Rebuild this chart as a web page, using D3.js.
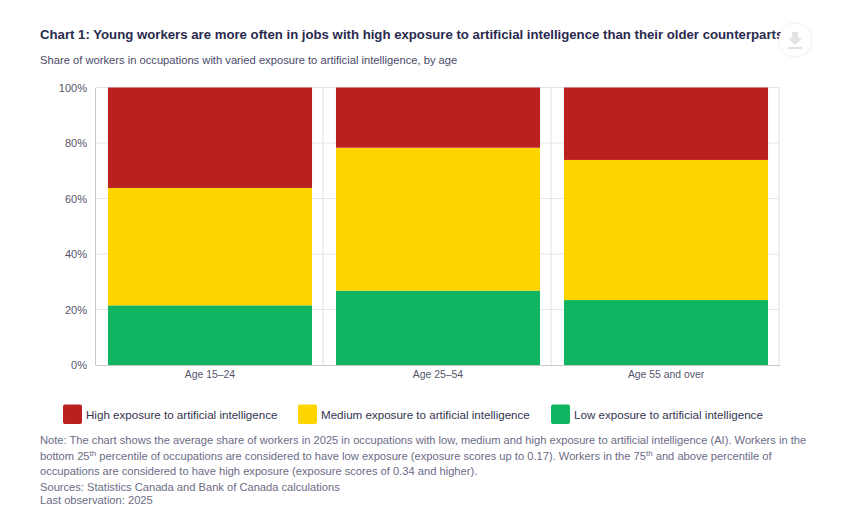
<!DOCTYPE html>
<html>
<head>
<meta charset="utf-8">
<script src="https://cdn.jsdelivr.net/npm/d3@7"></script>
<style>
  html, body { margin: 0; padding: 0; background: #fff; }
  svg { display: block; font-family: "Liberation Sans", Arial, sans-serif; }
  .axis path, .axis line { fill: none; }
</style>
</head>
<body>
<script>
const width = 865;
const height = 515;

// values
const ageGroups = ["Age 15–24", "Age 25–54", "Age 55 and over"];
const lowShare = [21.5, 26.8, 23.4];
const mediumShare = [42.3, 51.5, 50.5];
const highShare = [36.2, 21.7, 26.1];
const yTicks = [0, 20, 40, 60, 80, 100];

const seriesKeys = ["low", "medium", "high"];
const seriesColors = { low: "#10b562", medium: "#ffd500", high: "#b9201f" };
const legendLabels = [
  ["high", "High exposure to artificial intelligence", 63],
  ["medium", "Medium exposure to artificial intelligence", 298],
  ["low", "Low exposure to artificial intelligence", 551]
];

const titleText = "Chart 1: Young workers are more often in jobs with high exposure to artificial intelligence than their older counterparts";
const subtitleText = "Share of workers in occupations with varied exposure to artificial intelligence, by age";

// each note line is a list of [text, isSuperscript]
const noteLines = [
  [["Note: The chart shows the average share of workers in 2025 in occupations with low, medium and high exposure to artificial intelligence (AI). Workers in the", false]],
  [["bottom 25", false], ["th", true], [" percentile of occupations are considered to have low exposure (exposure scores up to 0.17). Workers in the 75", false], ["th", true], [" and above percentile of", false]],
  [["occupations are considered to have high exposure (exposure scores of 0.34 and higher).", false]],
  [["Sources: Statistics Canada and Bank of Canada calculations", false]],
  [["Last observation: 2025", false]]
];
const noteY = [444, 460, 475, 491, 504];

const rows = ageGroups.map((age, i) => ({
  age: age,
  low: lowShare[i],
  medium: mediumShare[i],
  high: highShare[i]
}));

const svg = d3.select("body").append("svg")
  .attr("width", width)
  .attr("height", height);

const plot = { left: 95, right: 779, top: 87.5, bottom: 365 };

// the bars sit one pixel right of the axis frame in the reference
const x = d3.scaleBand()
  .domain(ageGroups)
  .range([plot.left + 1, plot.right + 1])
  .paddingInner(0.105)
  .paddingOuter(0.0525);

const y = d3.scaleLinear()
  .domain([0, 100])
  .range([plot.bottom, plot.top]);

// Title and subtitle
svg.append("text")
  .attr("x", 40).attr("y", 38.5)
  .attr("font-size", 13.2).attr("font-weight", "bold")
  .attr("fill", "#2a2a4f")
  .text(titleText);

svg.append("text")
  .attr("x", 40).attr("y", 64)
  .attr("font-size", 11.2).attr("fill", "#4a4a68")
  .text(subtitleText);

// Grid lines
svg.append("g").selectAll("line")
  .data(yTicks.filter(d => d > 0))
  .enter().append("line")
  .attr("x1", plot.left).attr("x2", plot.right)
  .attr("y1", d => y(d)).attr("y2", d => y(d))
  .attr("stroke", "#e6e6e6");

svg.append("g").selectAll("line")
  .data(d3.range(1, ageGroups.length + 1))
  .enter().append("line")
  .attr("x1", d => plot.left + d * (plot.right - plot.left) / ageGroups.length)
  .attr("x2", d => plot.left + d * (plot.right - plot.left) / ageGroups.length)
  .attr("y1", plot.top).attr("y2", plot.bottom)
  .attr("stroke", "#e0e0e0");

// Stacked bars
const stacked = d3.stack().keys(seriesKeys)(rows);

svg.append("g").selectAll("g")
  .data(stacked)
  .enter().append("g")
  .attr("fill", d => seriesColors[d.key])
  .selectAll("rect")
  .data(d => d)
  .enter().append("rect")
  .attr("x", d => x(d.data.age))
  .attr("width", x.bandwidth())
  .attr("y", d => y(d[1]))
  .attr("height", d => y(d[0]) - y(d[1]));

// Axes
const yAxis = svg.append("g")
  .attr("class", "axis")
  .attr("transform", `translate(${plot.left},0)`)
  .call(d3.axisLeft(y).tickValues(yTicks).tickFormat(d => d + "%").tickSize(0).tickPadding(8));
yAxis.select(".domain").attr("stroke", "#c8c8c8");
yAxis.selectAll("text").attr("font-size", 11).attr("font-family", null).attr("fill", "#55556a");

const xAxis = svg.append("g")
  .attr("class", "axis")
  .attr("transform", `translate(0,${plot.bottom})`)
  .call(d3.axisBottom(x).tickSize(0).tickPadding(6));
xAxis.select(".domain").attr("stroke", "#c8c8c8");
xAxis.selectAll("text").attr("font-size", 10.4).attr("font-family", null).attr("fill", "#55556a");

// Legend
const legend = svg.append("g").selectAll("g")
  .data(legendLabels)
  .enter().append("g")
  .attr("transform", d => `translate(${d[2]},404.5)`);

legend.append("rect")
  .attr("width", 19).attr("height", 19.5).attr("rx", 2)
  .attr("fill", d => seriesColors[d[0]]);

legend.append("text")
  .attr("x", 23).attr("y", 14)
  .attr("font-size", 11.6).attr("fill", "#33334f")
  .text(d => d[1]);

// Note block
const notes = svg.append("g")
  .attr("font-size", 11.15).attr("fill", "#6c6c86");

noteLines.forEach((line, i) => {
  const t = notes.append("text").attr("x", 40).attr("y", noteY[i]);
  line.forEach(part => {
    const span = t.append("tspan").text(part[0]);
    if (part[1]) {
      span.attr("baseline-shift", "super").attr("font-size", 8);
    }
  });
});

// Download button
const shadow = svg.append("defs").append("filter")
  .attr("id", "btnShadow").attr("x", "-30%").attr("y", "-30%").attr("width", "160%").attr("height", "160%");
shadow.append("feDropShadow")
  .attr("dx", 0).attr("dy", 0).attr("stdDeviation", 1.5)
  .attr("flood-color", "#000").attr("flood-opacity", 0.14);

const btn = svg.append("g").attr("transform", "translate(795,40)");
btn.append("circle").attr("r", 16).attr("fill", "#fff").attr("filter", "url(#btnShadow)");
btn.append("path").attr("d", "M-3,-8 H3 V-2 H7 L0,5 L-7,-2 H-3 Z").attr("fill", "#e3e3e3");
btn.append("rect").attr("x", -7).attr("y", 7).attr("width", 14).attr("height", 2).attr("fill", "#e3e3e3");
</script>
</body>
</html>
